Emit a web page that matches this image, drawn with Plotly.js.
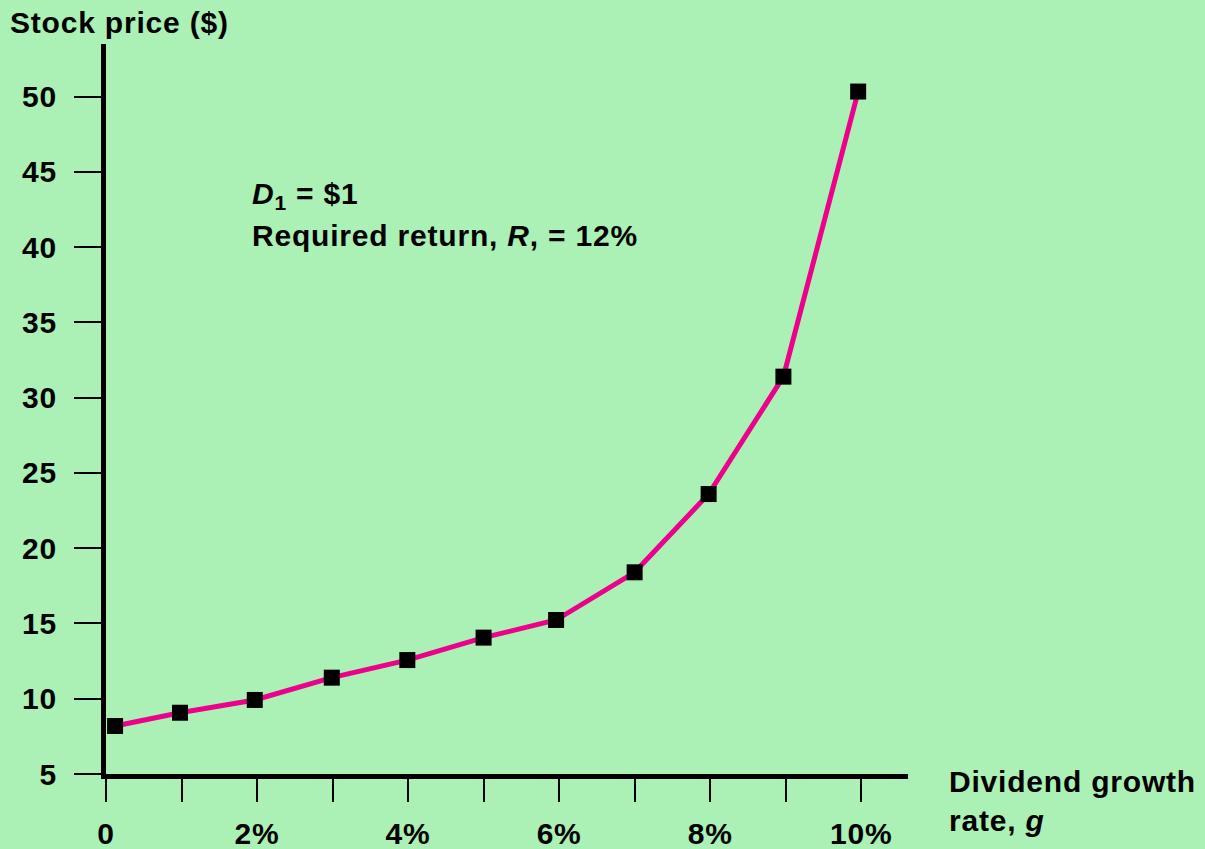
<!DOCTYPE html>
<html>
<head>
<meta charset="utf-8">
<script src="https://cdn.plot.ly/plotly-3.0.1.min.js"></script>
<style>
  html, body { margin: 0; padding: 0; background: #ABF1B5; }
  #chart { width: 1205px; height: 849px; }
  .main-svg text { letter-spacing: 0.8px; }
</style>
</head>
<body>
<div id="chart"></div>
<script>
// Data
const growthRate = [0.12, 0.98, 1.97, 2.99, 3.99, 5.0, 5.96, 7.0, 7.98, 8.97, 9.96];
const stockPrice = [8.19, 9.07, 9.92, 11.40, 12.57, 14.06, 15.23, 18.40, 23.60, 31.40, 50.34];

const xTickVals = [0, 2, 4, 6, 8, 10];
const xTickText = ['0', '2%', '4%', '6%', '8%', '10%'];
const xMinorStep = 1;
const yTickVals = [5, 10, 15, 20, 25, 30, 35, 40, 45, 50];
const yTickText = ['5', '10', '15', '20', '25', '30', '35', '40', '45', '50'];

const FONT = 'Liberation Sans, Arial, sans-serif';
const BG = '#ABF1B5';
const FS = 30;

const trace = {
  x: growthRate,
  y: stockPrice,
  type: 'scatter',
  mode: 'lines+markers',
  line: { color: '#EC008C', width: 5 },
  marker: { symbol: 'square', size: 16, color: '#000000' },
  cliponaxis: false,
  hoverinfo: 'skip'
};

const txtFont = { family: FONT, size: FS, color: '#000000', weight: 'bold' };

const layout = {
  width: 1205,
  height: 849,
  paper_bgcolor: BG,
  plot_bgcolor: BG,
  showlegend: false,
  margin: { l: 106, r: 297, t: 44, b: 75 },
  font: txtFont,
  title: {
    text: 'Stock price ($)',
    font: txtFont,
    xref: 'container', yref: 'container',
    x: 10 / 1205, xanchor: 'left',
    y: 1 - 22 / 849, yanchor: 'middle'
  },
  xaxis: {
    range: [0, 10.62],
    showgrid: false,
    zeroline: false,
    showline: true,
    linecolor: '#000000',
    linewidth: 5,
    ticks: 'outside',
    ticklen: 23,
    tickwidth: 2,
    tickcolor: '#000000',
    tickmode: 'array',
    tickvals: xTickVals,
    ticktext: xTickText,
    ticklabelstandoff: 6,
    tickfont: txtFont,
    minor: {
      tickmode: 'linear',
      tick0: 0,
      dtick: xMinorStep,
      ticks: 'outside',
      ticklen: 23,
      tickwidth: 2,
      tickcolor: '#000000',
      showgrid: false
    },
    fixedrange: true
  },
  yaxis: {
    range: [5, 53.5],
    showgrid: false,
    zeroline: false,
    showline: true,
    linecolor: '#000000',
    linewidth: 5,
    ticks: 'outside',
    ticklen: 27,
    tickwidth: 2,
    tickcolor: '#000000',
    tickmode: 'array',
    tickvals: yTickVals,
    ticktext: yTickText,
    ticklabelstandoff: 11,
    tickfont: txtFont,
    fixedrange: true
  },
  annotations: [
    {
      text: '<i>D</i><sub>1</sub> = $1',
      xref: 'x', yref: 'paper',
      x: 1.907, y: 0.792,
      xanchor: 'left', yanchor: 'middle',
      showarrow: false, align: 'left',
      font: txtFont
    },
    {
      text: 'Required return, <i>R</i>, = 12%',
      xref: 'x', yref: 'paper',
      x: 1.907, y: 0.737,
      xanchor: 'left', yanchor: 'middle',
      showarrow: false, align: 'left',
      font: txtFont
    },
    {
      text: 'Dividend growth<br>rate, <i>g</i>',
      xref: 'paper', yref: 'paper',
      x: (947 - 106) / 802, y: -0.037,
      xanchor: 'left', yanchor: 'middle',
      showarrow: false, align: 'left',
      font: txtFont
    }
  ]
};

Plotly.newPlot('chart', [trace], layout, { displayModeBar: false, staticPlot: true });
</script>
</body>
</html>
